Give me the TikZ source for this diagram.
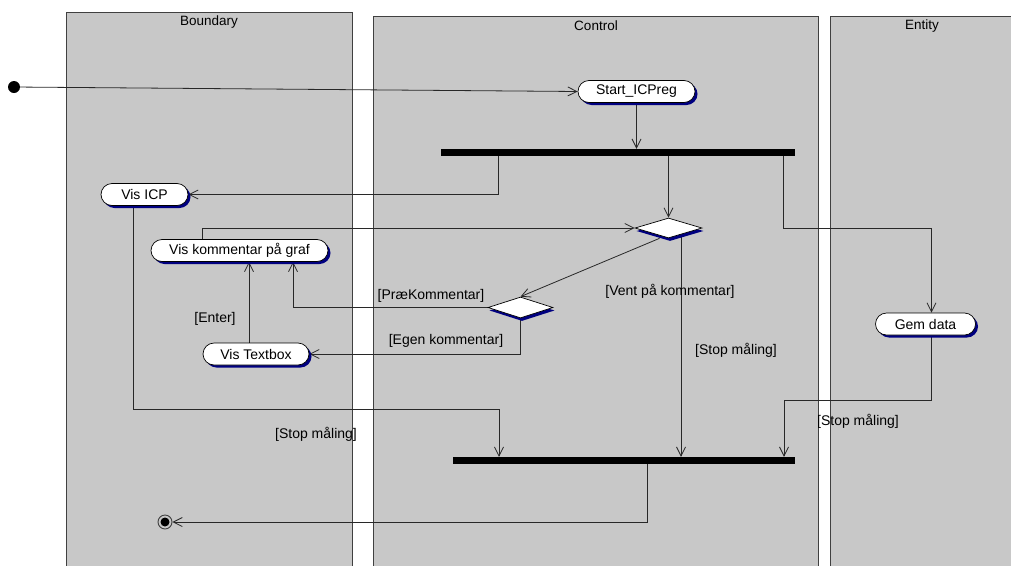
\documentclass[tikz,border=0pt]{standalone}
\usepackage{fontspec}
\setmainfont{Liberation Sans}
\usetikzlibrary{shapes.misc,shapes.geometric,arrows.meta,shadows}
\definecolor{lanefill}{RGB}{200,200,200}
\definecolor{laneline}{RGB}{64,64,64}
\definecolor{flow}{RGB}{40,40,40}
\definecolor{shade}{RGB}{0,0,128}
\pgfdeclarelayer{lanes}
\pgfdeclarelayer{edges}
\pgfsetlayers{lanes,edges,main}

\begin{document}
\begin{tikzpicture}[x=1pt,y=-1pt,
  font=\fontsize{14}{16}\selectfont,
  lane/.style={draw=laneline, fill=lanefill, line width=0.8pt},
  lanetitle/.style={inner sep=0pt, font=\fontsize{13.5}{16}\selectfont},
  activity/.style={rounded rectangle, draw=black, fill=white, line width=0.7pt,
    inner sep=0pt, minimum height=22pt,
    drop shadow={shadow xshift=2.5pt, shadow yshift=-2.5pt, fill=shade, opacity=1}},
  choice/.style={diamond, draw=black, fill=white, line width=0.7pt, inner sep=0pt,
    drop shadow={shadow xshift=1.5pt, shadow yshift=-3pt, fill=shade, opacity=1}},
  bar/.style={rectangle, fill=black, inner sep=0pt, minimum height=7pt},
  flowline/.style={draw=flow, line width=0.8pt, -{Straight Barb[length=9pt,width=9pt]}},
  guard/.style={inner sep=0pt}]

\useasboundingbox (0,0) rectangle (1011,565);

% swimlanes
\begin{pgfonlayer}{lanes}
  \clip (0,0) rectangle (1011,565);
  \draw[lane] (66,12.5) rectangle (352,575);
  \draw[lane] (373,16.5) rectangle (818,575);
  \draw[lane] (830,16.5) rectangle (1025,575);
\end{pgfonlayer}
\node[lanetitle] (tb) at (209,22) {Boundary};
\node[lanetitle] (tc) at (596,26) {Control};
\node[lanetitle] (te) at (922,26) {Entity};

% activities
\node[activity, minimum width=117pt] (start) at (636.5,91.5) {Start\_ICPreg};
\node[activity, minimum width=87pt] (visicp) at (144.5,194.5) {Vis ICP};
\node[activity, minimum width=177pt] (viskom) at (239.5,250.5) {Vis kommentar på graf};
\node[activity, minimum width=106pt] (vistext) at (256,354) {Vis Textbox};
\node[activity, minimum width=100pt] (gem) at (925.5,324) {Gem data};

% decisions
\node[choice, minimum width=67pt, minimum height=20pt] (dia1) at (668.5,228) {};
\node[choice, minimum width=65pt, minimum height=21pt] (dia2) at (520.5,307.5) {};

% synchronisation bars
\node[bar, minimum width=354pt] (fork1) at (618,152.5) {};
\node[bar, minimum width=342pt] (fork2) at (624,460.5) {};

% initial and final states
\node[circle, fill=black, inner sep=0pt, minimum size=12pt] (init) at (14,87) {};
\node[circle, draw=black!75, line width=0.9pt, fill=lanefill, inner sep=0pt, minimum size=14pt] (final) at (165,522) {};
\fill[black] (final.center) circle (4.5pt);

% guards
\node[guard] (g1) at (431,296) {[PræKommentar]};
\node[guard] (g2) at (446,341) {[Egen kommentar]};
\node[guard] (g3) at (215,319) {[Enter]};
\node[guard] (g4) at (670,291) {[Vent på kommentar]};
\node[guard] (g5) at (736,350) {[Stop måling]};
\node[guard] (g6) at (316,434) {[Stop måling]};
\node[guard] (g7) at (858,421) {[Stop måling]};

% transitions
\coordinate (vt) at ([xshift=-7pt]vistext.north);
\coordinate (d1out) at ([xshift=12.5pt]dia1.center);
\begin{pgfonlayer}{edges}
  \draw[flowline] (init) -- (start.west);
  \draw[flowline] (start.south) -- (start.south |- fork1.north);
  \draw[flowline] ([xshift=-120pt]fork1.south) |- (visicp.east);
  \draw[flowline] (dia1.north |- fork1.south) -- (dia1.north);
  \draw[flowline] ([xshift=165pt]fork1.south) -- ++(0,72) -| ([xshift=6pt]gem.north);
  \draw[flowline] ([xshift=-37.5pt]viskom.north) |- (dia1.west);
  \draw[flowline] ([xshift=-9pt]dia1.south) -- (dia2.north);
  \draw[flowline] (dia2.west) -| ([xshift=53.5pt]viskom.south);
  \draw[flowline] (dia2.south) |- (vistext.east);
  \draw[flowline] (vt) -- (vt |- viskom.south);
  \draw[flowline] (d1out) -- (d1out |- fork2.north);
  \draw[flowline] ([xshift=-11.5pt]visicp.south) -- ++(0,204) -| ([xshift=-125pt]fork2.north);
  \draw[flowline] ([xshift=6pt]gem.south) -- ++(0,65) -| ([xshift=160pt]fork2.north);
  \draw[flowline] ([xshift=23pt]fork2.south) |- (final.east);
\end{pgfonlayer}
\end{tikzpicture}
\end{document}
